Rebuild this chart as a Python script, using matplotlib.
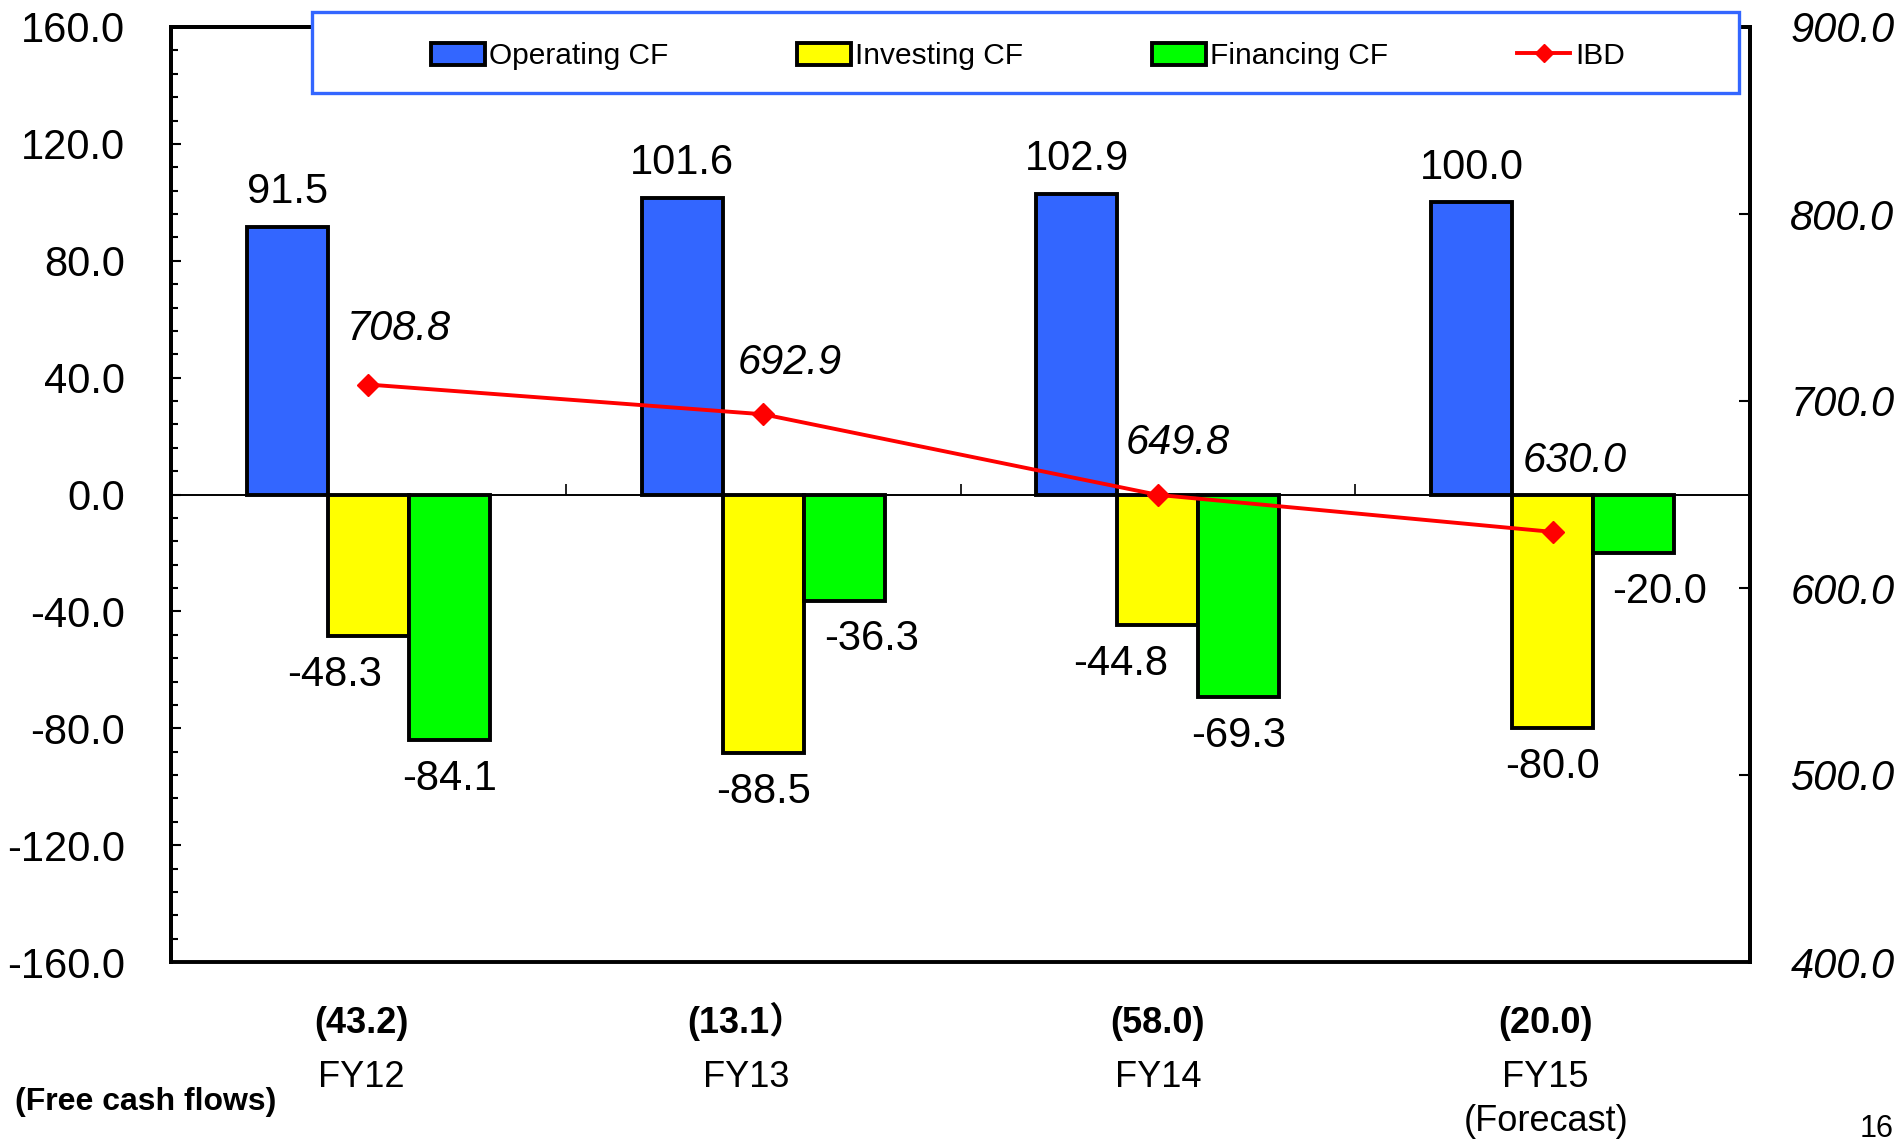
import matplotlib
matplotlib.use("Agg")
import matplotlib.pyplot as plt
import numpy as np
from matplotlib.patches import Rectangle
from matplotlib.ticker import MultipleLocator, FormatStrFormatter
from matplotlib.transforms import blended_transform_factory, offset_copy

# ---- data (bn yen) ----
categories = ["FY12", "FY13", "FY14", "FY15"]
category_notes = ["", "", "", "(Forecast)"]
fcf_labels = ["(43.2)", "(13.1\uff09", "(58.0)", "(20.0)"]
operating_cf = [91.5, 101.6, 102.9, 100.0]
investing_cf = [-48.3, -88.5, -44.8, -80.0]
financing_cf = [-84.1, -36.3, -69.3, -20.0]
ibd = [708.8, 692.9, 649.8, 630.0]

# label nudges (points) for the hand-placed value labels
inv_dx = [-24, 0, -27, 0]
fin_dx = [0, 20, 0, 19]
ibd_dx = [22, 19, 14, 16]
ibd_dy = [40, 37, 37, 51]
cat_dx = [-5, -12, 0, -5]

BLUE = "#3366FF"
YELLOW = "#FFFF00"
GREEN = "#00FF00"
RED = "#FF0000"

plt.rcParams["font.family"] = ["Liberation Sans", "Noto Sans CJK JP", "DejaVu Sans"]

W, H = 1903, 1141
fig = plt.figure(figsize=(W / 100, H / 100), dpi=100)
ax = fig.add_axes([171 / W, 1 - 962 / H, 1579 / W, 935 / H])
ax2 = ax.twinx()

x = np.arange(len(categories))
bw = 0.205
series = [(operating_cf, BLUE, "Operating CF", -1),
          (investing_cf, YELLOW, "Investing CF", 0),
          (financing_cf, GREEN, "Financing CF", 1)]
handles = []
for vals, col, name, k in series:
    b = ax.bar(x + k * bw, vals, bw, color=col, edgecolor="black", lw=2.8,
               label=name, zorder=2)
    handles.append(b)

# value labels
for xi, v in zip(x - bw, operating_cf):
    ax.annotate(f"{v:.1f}", (xi, v), xytext=(0, 25), textcoords="offset points",
                ha="center", va="center", fontsize=30)
for xi, v, dx in zip(x, investing_cf, inv_dx):
    ax.annotate(f"{v:.1f}", (xi, v), xytext=(dx, -28), textcoords="offset points",
                ha="center", va="center", fontsize=30)
for xi, v, dx in zip(x + bw, financing_cf, fin_dx):
    ax.annotate(f"{v:.1f}", (xi, v), xytext=(dx, -28), textcoords="offset points",
                ha="center", va="center", fontsize=30)

ax.set_xlim(-0.5, len(categories) - 0.5)
ax.set_ylim(-160, 160)
ax.yaxis.set_major_locator(MultipleLocator(40))
ax.yaxis.set_minor_locator(MultipleLocator(8))
ax.yaxis.set_major_formatter(FormatStrFormatter("%.1f"))
ax.tick_params(axis="y", which="major", direction="in", length=7, width=1.5,
               labelsize=30, pad=33)
ax.tick_params(axis="y", which="minor", direction="in", length=5, width=1.5)
ax.set_xticks(x[:-1] + 0.5)
ax.tick_params(axis="x", direction="in", length=8, width=1.2, labelbottom=False)
ax.spines["bottom"].set_position(("data", 0))
ax.spines["bottom"].set_linewidth(1.4)
for s in ("left", "right", "top"):
    ax.spines[s].set_linewidth(2.8)

# IBD line on right axis
line, = ax2.plot(x, ibd, color=RED, lw=2.8, marker="D", ms=11, label="IBD", zorder=3)
for xi, v, dx, dy in zip(x, ibd, ibd_dx, ibd_dy):
    ax2.annotate(f"{v:.1f}", (xi, v), xytext=(dx, dy), textcoords="offset points",
                 ha="center", va="center", fontsize=30, style="italic")
ax2.set_ylim(400, 900)
ax2.yaxis.set_major_locator(MultipleLocator(100))
ax2.yaxis.set_major_formatter(FormatStrFormatter("%.1f"))
ax2.tick_params(axis="y", direction="in", length=8, width=1.5, labelsize=30, pad=29)
for t in ax2.get_yticklabels():
    t.set_style("italic")
for s in ("left", "right", "top", "bottom"):
    ax2.spines[s].set_linewidth(2.8)

# category labels below the frame
tr = blended_transform_factory(ax.transData, fig.transFigure)
for xi, lab, note, fcf, dx in zip(x, categories, category_notes, fcf_labels, cat_dx):
    t = offset_copy(tr, fig=fig, x=dx, y=0, units="points")
    ax.text(xi, 1 - 1033 / H, fcf, transform=t, ha="center", va="baseline",
            fontsize=26, fontweight="bold")
    ax.text(xi, 1 - 1087 / H, lab, transform=t, ha="center", va="baseline",
            fontsize=26)
    if note:
        ax.text(xi, 1 - 1131 / H, note, transform=t, ha="center", va="baseline",
                fontsize=26)
fig.text(15 / W, 1 - 1110 / H, "(Free cash flows)", ha="left", va="baseline",
         fontsize=23, fontweight="bold")
fig.text(1860 / W, 1 - 1137 / H, "16", ha="left", va="baseline", fontsize=22)

# legend box
fig.patches.append(Rectangle((312 / W, 1 - 93 / H), (1739 - 312) / W, 81 / H,
                             transform=fig.transFigure, facecolor="white",
                             edgecolor=BLUE, lw=2.4, zorder=5))
leg = fig.legend(handles + [line], ["Operating CF", "Investing CF", "Financing CF", "IBD"],
                 loc="center", bbox_to_anchor=(1028 / W, 1 - 56 / H), ncol=4,
                 frameon=False, fontsize=21.5, handlelength=1.8, handleheight=0.75,
                 handletextpad=0.15, columnspacing=4.3, markerscale=0.8)
leg.set_zorder(6)

fig.savefig("out.png", dpi=100)
